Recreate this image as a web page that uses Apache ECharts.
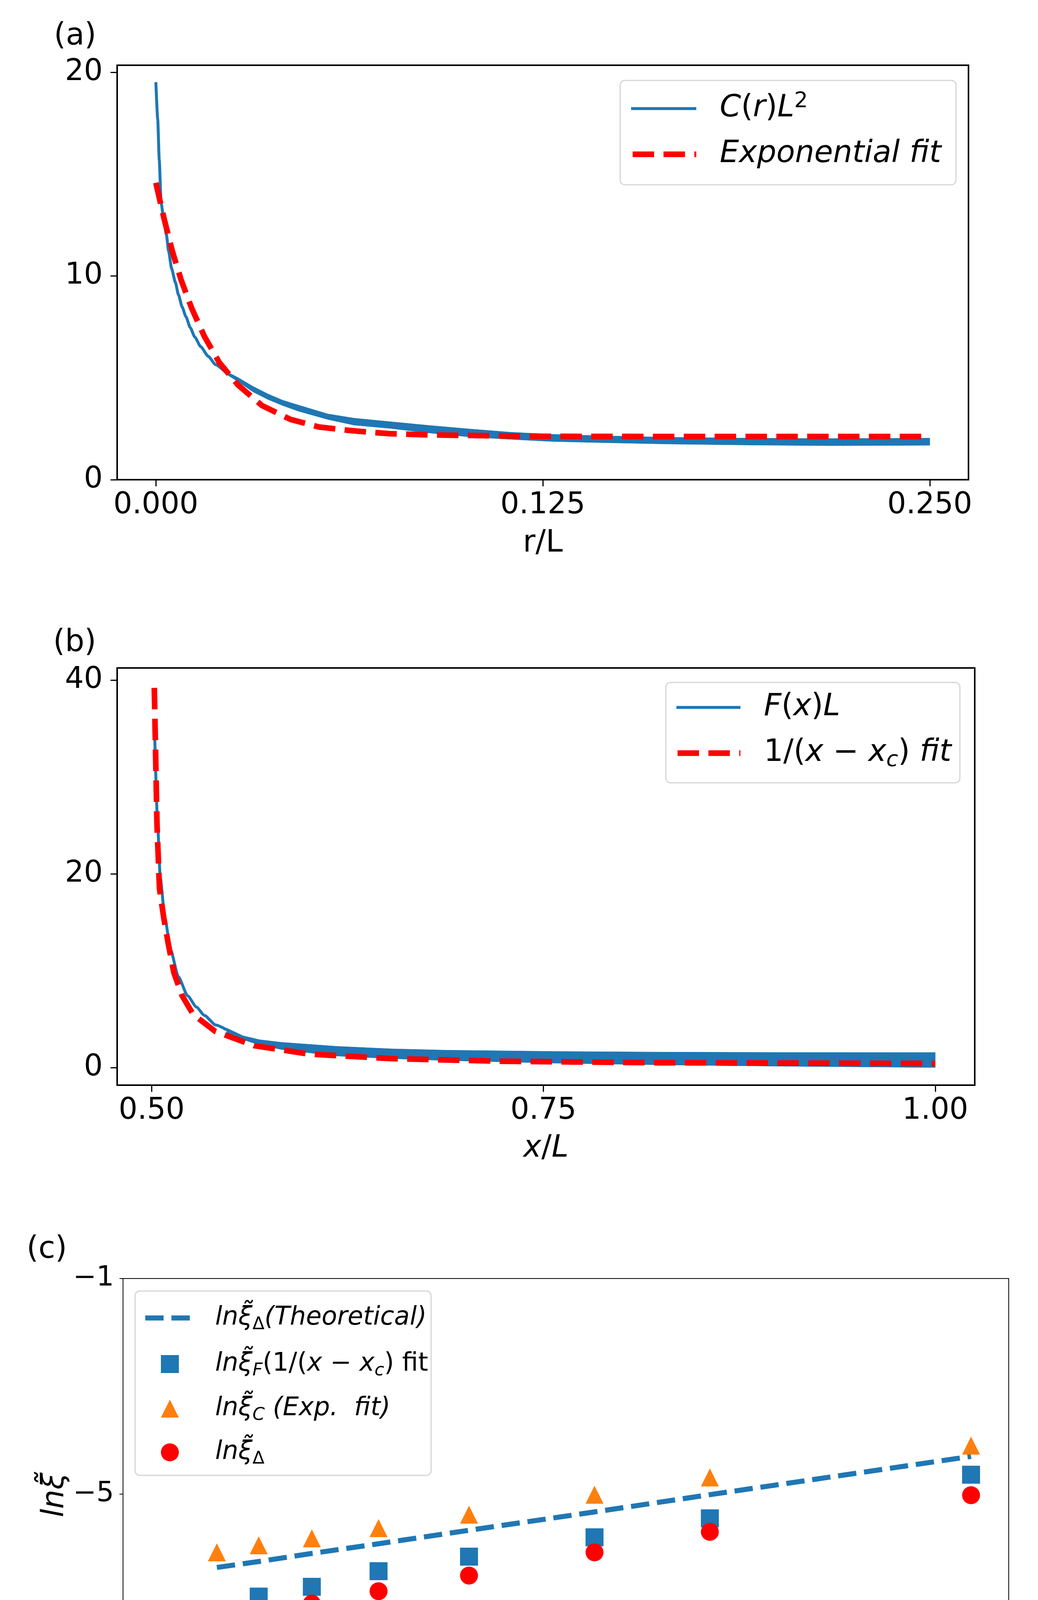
<!DOCTYPE html>
<html>
<head>
<meta charset="utf-8">
<script src="https://cdn.jsdelivr.net/npm/echarts@6/dist/echarts.min.js"></script>
<style>
html,body{margin:0;padding:0;background:#fff;}
#c{width:2658px;height:4631px;}
</style>
</head>
<body>
<div id="c"></div>
<script>
// ---------------- Panel (a): C(r)L^2 vs r/L ----------------
const aLineR = [0, 0.0006, 0.0011, 0.0017, 0.0026, 0.0034, 0.0041, 0.0051, 0.0063, 0.0073, 0.0085, 0.0097, 0.0111, 0.0126, 0.0145, 0.0169, 0.0193, 0.0227];
const aLineV = [19.52, 17.7, 15.7, 13.6, 12.7, 12.04, 11.24, 10.36, 9.69, 9.08, 8.48, 8.01, 7.47, 7.00, 6.53, 6.06, 5.65, 5.25];
const aBandR  = [0.0227, 0.0266, 0.0314, 0.0362, 0.0410, 0.0459, 0.0555, 0.0640, 0.0756, 0.0885, 0.1014, 0.1147, 0.1275, 0.1404, 0.166, 0.192, 0.2176, 0.250];
const aBandHi = [5.32, 5.01, 4.58, 4.21, 3.90, 3.67, 3.23, 3.02, 2.85, 2.66, 2.49, 2.33, 2.23, 2.17, 2.08, 2.04, 2.02, 2.04];
const aBandLo = [5.18, 4.81, 4.31, 3.94, 3.64, 3.37, 2.96, 2.68, 2.52, 2.29, 2.10, 1.98, 1.88, 1.83, 1.75, 1.70, 1.67, 1.69];
const aFitR = [0, 0.0026, 0.0053, 0.0082, 0.0116, 0.0157, 0.0205, 0.0266, 0.0343, 0.0435, 0.0526, 0.0623, 0.0700, 0.0756, 0.088, 0.1014, 0.125, 0.16, 0.20, 0.25];
const aFitV = [14.58, 12.85, 11.23, 9.79, 8.41, 7.03, 5.75, 4.64, 3.64, 2.96, 2.59, 2.42, 2.32, 2.26, 2.20, 2.17, 2.13, 2.12, 2.12, 2.12];
const aXTicks = [0, 0.125, 0.25];
const aYTicks = [0, 10, 20];

// ---------------- Panel (b): F(x)L vs x/L ----------------
const bLineX = [0.5020, 0.5038, 0.5055, 0.5085, 0.5122, 0.5170, 0.5230, 0.5286, 0.5336, 0.5409, 0.5479];
const bLineV = [34.0, 25.2, 19.6, 15.4, 12.1, 9.4, 7.4, 6.25, 5.4, 4.4, 3.9];
const bBandX  = [0.5479, 0.5584, 0.5689, 0.5829, 0.6178, 0.6528, 0.6878, 0.7577, 0.8276, 0.8975, 1.0];
const bBandHi = [4.08, 3.28, 2.88, 2.61, 2.20, 1.94, 1.80, 1.67, 1.60, 1.57, 1.56];
const bBandLo = [3.61, 2.88, 2.34, 1.87, 1.20, 0.93, 0.73, 0.46, 0.28, 0.15, 0.01];
const bFitX = [0.5017, 0.5025, 0.5034, 0.5050, 0.5078, 0.5105, 0.5142, 0.5195, 0.5265, 0.5405, 0.5654, 0.6003, 0.6528, 0.7227, 0.8276, 1.0];
const bFitV = [39.2, 32.7, 25.2, 18.5, 15.4, 12.9, 9.8, 7.4, 5.5, 3.75, 2.27, 1.40, 0.93, 0.66, 0.50, 0.43];
const bXTicks = [0.5, 0.75, 1.0];
const bYTicks = [0, 20, 40];

// ---------------- Panel (c): ln xi vs 1/c ----------------
const cInvC      = [0.333, 0.370, 0.417, 0.476, 0.556, 0.667, 0.769, 1.000];
const cTheory    = [-6.36, -6.25, -6.10, -5.92, -5.67, -5.33, -5.01, -4.30];
const cSquares   = [-7.13, -6.90, -6.72, -6.43, -6.16, -5.80, -5.45, -4.64];
const cTriangles = [-6.08, -5.95, -5.82, -5.63, -5.38, -5.01, -4.69, -4.10];
const cCircles   = [-7.37, -7.22, -7.03, -6.80, -6.51, -6.08, -5.70, -5.02];
const cXTicks = [0.25, 0.5, 0.75, 1.0];
const cYTicks = [-9, -5, -1];

// ---------------- helpers ----------------
const BLUE = '#1f77b4', RED = '#ff0000', ORANGE = '#ff7f0e';
const FF = '"DejaVu Sans"';
function pairs(xs, ys) { return xs.map((x, i) => [x, ys[i]]); }
function minusFmt(v) { return (v < 0 ? '\u2212' : '') + Math.abs(v); }

function axis(gi, min, max, ticks, fmt, o) {
  return {
    type: 'value', gridIndex: gi, min: min, max: max,
    axisLine: { show: true, onZero: false, lineStyle: { color: '#000', width: o.lw } },
    axisTick: { show: true, inside: false, length: o.tl, customValues: ticks, lineStyle: { color: '#000', width: o.tw } },
    axisLabel: { show: true, customValues: ticks, formatter: fmt, margin: o.m, fontSize: o.fs,
                 fontFamily: 'DejaVu Sans', color: '#000', hideOverlap: false },
    splitLine: { show: false }, splitArea: { show: false }
  };
}

function band(name, gi, xs, hi, lo) {
  return {
    name: name, type: 'custom', coordinateSystem: 'cartesian2d', xAxisIndex: gi, yAxisIndex: gi,
    data: [[xs[0], hi[0]]], z: 2, silent: true,
    renderItem: function (params, api) {
      const pts = [];
      for (let i = 0; i < xs.length; i++) pts.push(api.coord([xs[i], hi[i]]));
      for (let i = xs.length - 1; i >= 0; i--) pts.push(api.coord([xs[i], lo[i]]));
      return { type: 'polygon', shape: { points: pts }, style: { fill: BLUE, stroke: BLUE, lineWidth: 1 } };
    }
  };
}

function line(name, gi, xs, ys, color, width, dash, z, smooth) {
  return {
    name: name, type: 'line', xAxisIndex: gi, yAxisIndex: gi, data: pairs(xs, ys),
    showSymbol: false, symbol: 'none', smooth: smooth || false, smoothMonotone: 'x', z: z, silent: true,
    lineStyle: { color: color, width: width, type: dash || 'solid', cap: 'butt', join: 'round' }
  };
}

function scatter(name, xs, ys, symbol, size, color, z) {
  return {
    name: name, type: 'scatter', xAxisIndex: 2, yAxisIndex: 2, data: pairs(xs, ys),
    symbol: symbol, symbolSize: size, itemStyle: { color: color, opacity: 1 }, z: z, silent: true
  };
}

function fnt(size, italic) { return (italic ? 'italic ' : '') + size + 'px ' + FF; }
function richSet(fs, lh, subFs, subLh) {
  return {
    i:   { font: fnt(fs, true),  fill: '#000', lineHeight: lh },
    n:   { font: fnt(fs, false), fill: '#000', lineHeight: lh },
    sup: { font: fnt(subFs, false), fill: '#000', lineHeight: subLh, verticalAlign: 'top' },
    sub: { font: fnt(subFs, false), fill: '#000', lineHeight: subLh, verticalAlign: 'bottom' },
    subi:{ font: fnt(subFs, true),  fill: '#000', lineHeight: subLh, verticalAlign: 'bottom' }
  };
}
function txt(x, y, text, rich, opts) {
  opts = opts || {};
  return {
    type: 'text', x: x, y: y, rotation: opts.rot || 0, z: 100, silent: true,
    style: { text: text, rich: rich, font: fnt(opts.fs || 78, !!opts.italic), fill: '#000',
             align: opts.align || 'left', verticalAlign: 'middle' }
  };
}
function box(x, y, w, h) {
  return { type: 'rect', z: 90, silent: true, shape: { x: x, y: y, width: w, height: h, r: 12 },
           style: { fill: '#ffffff', stroke: '#d6d6d6', lineWidth: 3 } };
}
function seg(x1, x2, y, color, width, dash) {
  return { type: 'line', z: 95, silent: true, shape: { x1: x1, y1: y, x2: x2, y2: y },
           style: { stroke: color, lineWidth: width, lineDash: dash || null, lineCap: 'butt' } };
}

const R78 = richSet(78, 92, 55, 46);
const R65 = richSet(65, 80, 45, 52);

const graphics = [
  txt(138, 94, '(a)', null, { fs: 78 }),
  txt(136, 1647, '(b)', null, { fs: 78 }),
  txt(68, 3200, '(c)', null, { fs: 78 }),
  txt(1390, 1392, 'r/L', null, { fs: 78, align: 'center' }),
  txt(1398, 2941, '{i|x}{n|/}{i|L}', R78, { fs: 78, align: 'center' }),
  txt(1449, 4508, '1/c', null, { fs: 78, align: 'center' }),
  txt(142, 3827, '{i|ln\u03be\u0303}', R78, { fs: 78, align: 'center', rot: Math.PI / 2 }),
  box(1588, 206, 860, 267),
  seg(1616, 1783, 278, BLUE, 7.5),
  seg(1620, 1783, 395, RED, 14.5, [55, 24]),
  txt(1843, 278, '{i|C}{n|(}{i|r}{n|)}{i|L}{sup|2}', R78),
  txt(1843, 395, '{i|Exponential fit}', R78),
  box(1705, 1747, 753, 257),
  seg(1732, 1896, 1811, BLUE, 7.5),
  seg(1735, 1896, 1928, RED, 14.5, [55, 24]),
  txt(1956, 1811, '{i|F}{n|(}{i|x}{n|)}{i|L}', R78),
  txt(1956, 1928, '{n|1/(}{i|x}{n| \u2212 }{i|x}{subi|c}{n|)}{i| fit}', R78),
  box(346, 3305, 758, 472),
  seg(372, 486, 3374, BLUE, 13, [47, 20]),
  { type: 'rect', z: 95, silent: true, shape: { x: 412, y: 3469, width: 46, height: 46 }, style: { fill: BLUE } },
  { type: 'polygon', z: 95, silent: true, shape: { points: [[435, 3583], [412, 3629], [458, 3629]] }, style: { fill: ORANGE } },
  { type: 'circle', z: 95, silent: true, shape: { cx: 435, cy: 3718, r: 23 }, style: { fill: RED } },
  txt(551, 3374, '{i|ln\u03be\u0303}{sub|\u0394}{i|(Theoretical)}', R65, { fs: 65 }),
  txt(551, 3492, '{i|ln\u03be\u0303}{subi|F}{n|(1/(}{i|x}{n| \u2212 }{i|x}{subi|c}{n|) fit}', R65, { fs: 65 }),
  txt(551, 3606, '{i|ln\u03be\u0303}{subi|C}{i| (Exp.  fit)}', R65, { fs: 65 }),
  txt(551, 3718, '{i|ln\u03be\u0303}{sub|\u0394}', R65, { fs: 65 })
];

const gridBase = { show: true, borderColor: '#000', backgroundColor: 'transparent', containLabel: false, outerBoundsMode: 'none' };
const oAB = { lw: 4, tl: 17, tw: 3, fs: 76 };
const oC  = { lw: 2, tl: 9,  tw: 2, fs: 71 };

const option = {
  animation: false,
  backgroundColor: '#ffffff',
  grid: [
    Object.assign({}, gridBase, { left: 300, top: 167,  width: 2180, height: 1061, borderWidth: 4 }),
    Object.assign({}, gridBase, { left: 300, top: 1710, width: 2196, height: 1068, borderWidth: 4 }),
    Object.assign({}, gridBase, { left: 315, top: 3273, width: 2268, height: 1104, borderWidth: 2 })
  ],
  xAxis: [
    axis(0, -0.0125, 0.2625, aXTicks, v => v.toFixed(3), Object.assign({ m: 28 }, oAB)),
    axis(1, 0.478, 1.0252, bXTicks, v => v.toFixed(2), Object.assign({ m: 28 }, oAB)),
    axis(2, 0.25, 1.0333, cXTicks, v => v.toFixed(2), Object.assign({ m: 12 }, oC))
  ],
  yAxis: [
    axis(0, 0, 20.35, aYTicks, v => String(v), Object.assign({ m: 37 }, oAB)),
    axis(1, -1.81, 41.25, bYTicks, v => String(v), Object.assign({ m: 37 }, oAB)),
    axis(2, -9, -1, cYTicks, minusFmt, Object.assign({ m: 23 }, oC))
  ],
  series: [
    line('C(r)L2', 0, aLineR, aLineV, BLUE, 7.5, null, 2, 0.2),
    band('C(r)L2 band', 0, aBandR, aBandHi, aBandLo),
    line('Exponential fit', 0, aFitR, aFitV, RED, 14.5, [55, 24], 3, false),

    line('F(x)L', 1, bLineX, bLineV, BLUE, 7.5, null, 2, 0.2),
    band('F(x)L band', 1, bBandX, bBandHi, bBandLo),
    line('1/(x-xc) fit', 1, bFitX, bFitV, RED, 14.5, [55, 24], 3, false),

    line('Theoretical', 2, cInvC, cTheory, BLUE, 13, [47, 20], 2),
    scatter('xi_F', cInvC, cSquares, 'rect', 46, BLUE, 3),
    scatter('xi_C', cInvC, cTriangles, 'triangle', 46, ORANGE, 4),
    scatter('xi_Delta', cInvC, cCircles, 'circle', 46, RED, 5)
  ],
  graphic: { elements: graphics }
};

const chart = echarts.init(document.getElementById('c'), null, { renderer: 'canvas', width: 2658, height: 4631 });
chart.setOption(option);
</script>
</body>
</html>
